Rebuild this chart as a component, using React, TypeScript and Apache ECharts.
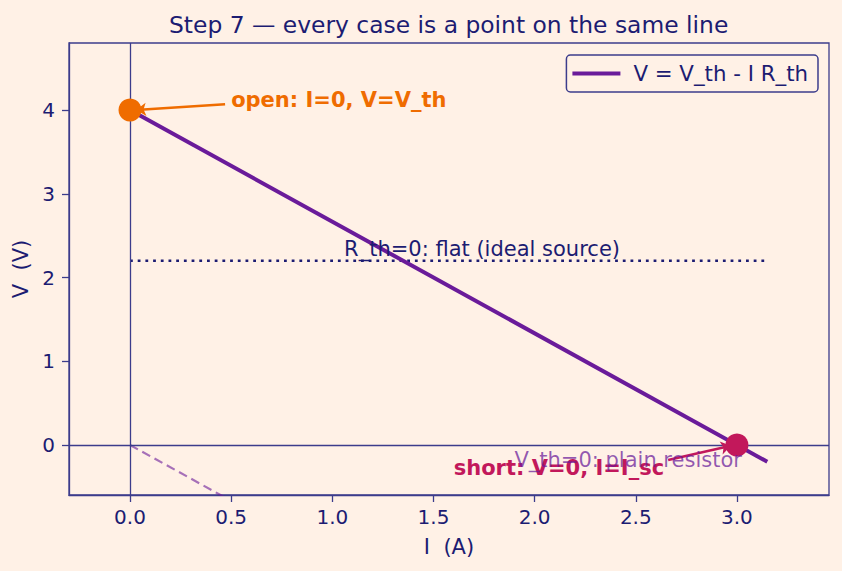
import React, { useEffect, useRef } from "react";
import * as echarts from "echarts";

const NAVY = "#1c1c72";
const FRAME = "#3c3c8c";
const PURPLE = "#6a1b9a";
const ORANGE = "#ef6c00";
const CRIMSON = "#c2185b";
const BG = "#fff1e6";
const FONT = "DejaVu Sans";

const xTicks = [0, 0.5, 1.0, 1.5, 2.0, 2.5, 3.0];
const yTicks = [0, 1, 2, 3, 4];

const lineI = [0, 3.15];
const lineV = [4, -0.2];
const flatI = [0, 3.15];
const flatV = [2.2, 2.2];
const resI = [0, 3.15];
const resV = [0, -4.2];

const openPt = [0, 4];
const shortPt = [3, 0];

const openArrowFrom = [0.47, 4.07];
const openArrowTo = [0.03, 4.0];
const shortArrowFrom = [2.66, -0.18];
const shortArrowTo = [2.97, -0.01];

const openLabelPos = [0.5, 4.12];
const shortLabelPos = [1.6, -0.27];
const resLabelPos = [1.9, -0.18];
const flatLabelPos = [1.74, 2.34];

const zip = (a: number[], b: number[]) => a.map((v, i) => [v, b[i]]);

export default function App() {
  const ref = useRef<HTMLDivElement>(null);
  useEffect(() => {
    const chart = echarts.init(ref.current!, null, { renderer: "svg" });
    const textLabel = (
      pos: number[],
      text: string,
      color: string,
      bold: boolean,
      position: any,
      z: number
    ) => ({
      type: "scatter",
      data: [pos],
      symbolSize: 0,
      silent: true,
      z,
      itemStyle: { opacity: 1 },
      label: {
        show: true,
        formatter: text,
        position,
        distance: 0,
        color,
        fontFamily: FONT,
        fontSize: 21,
        fontWeight: bold ? "bold" : "normal",
      },
    });
    chart.setOption({
      animation: false,
      backgroundColor: BG,
      textStyle: { fontFamily: FONT },
      title: {
        text: "Step 7 — every case is a point on the same line",
        left: 164,
        top: 8,
        textStyle: { color: NAVY, fontSize: 23.4, fontWeight: "normal", fontFamily: FONT },
      },
      legend: {
        data: [{ name: "V = V_th - I R_th", icon: "rect" }],
        right: 24,
        top: 55,
        itemWidth: 48,
        itemHeight: 4,
        itemGap: 10,
        padding: [8, 10, 8, 6],
        borderColor: FRAME,
        borderWidth: 1.5,
        borderRadius: 4,
        backgroundColor: "rgba(255,241,230,0.8)",
        textStyle: { color: NAVY, fontSize: 21.3, fontFamily: FONT, padding: [0, 0, 0, 8] },
      },
      grid: {
        left: 69,
        right: 13,
        top: 43,
        bottom: 76,
        show: true,
        borderColor: FRAME,
        borderWidth: 1.3,
        backgroundColor: "transparent",
      },
      xAxis: {
        type: "value",
        min: -0.3015,
        max: 3.455,
        name: "I  (A)",
        nameLocation: "middle",
        nameGap: 41,
        nameTextStyle: { color: NAVY, fontSize: 21, fontFamily: FONT },
        axisLine: { show: true, onZero: false, lineStyle: { color: FRAME, width: 1.3 } },
        axisTick: { show: true, length: 7, customValues: xTicks, lineStyle: { color: FRAME, width: 1.3 } },
        axisLabel: {
          customValues: xTicks,
          color: NAVY,
          fontSize: 20,
          margin: 12,
          formatter: (v: number) => v.toFixed(1),
        },
        splitLine: { show: false },
      },
      yAxis: {
        type: "value",
        min: -0.597,
        max: 4.8,
        name: "V  (V)",
        nameLocation: "middle",
        nameGap: 38,
        nameTextStyle: { color: NAVY, fontSize: 21, fontFamily: FONT },
        axisLine: { show: true, onZero: false, lineStyle: { color: FRAME, width: 1.3 } },
        axisTick: { show: true, length: 7, customValues: yTicks, lineStyle: { color: FRAME, width: 1.3 } },
        axisLabel: {
          customValues: yTicks,
          color: NAVY,
          fontSize: 20,
          margin: 14,
          formatter: (v: number) => String(Math.round(v)),
        },
        splitLine: { show: false },
      },
      series: [
        {
          type: "line",
          name: "axes0",
          data: [],
          silent: true,
          markLine: {
            silent: true,
            symbol: "none",
            label: { show: false },
            lineStyle: { color: FRAME, width: 1.3, type: "solid", opacity: 1 },
            data: [{ xAxis: 0 }, { yAxis: 0 }],
          },
        },
        {
          type: "line",
          name: "res",
          data: zip(resI, resV),
          showSymbol: false,
          lineStyle: { color: "rgba(106,27,154,0.6)", width: 2.2, type: [9, 5] },
          z: 3,
        },
        {
          type: "line",
          name: "flat",
          data: zip(flatI, flatV),
          showSymbol: false,
          lineStyle: { color: NAVY, width: 2.5, type: [2.8, 4.9] },
          z: 3,
        },
        {
          type: "line",
          name: "V = V_th - I R_th",
          data: zip(lineI, lineV),
          showSymbol: false,
          color: PURPLE,
          lineStyle: { color: PURPLE, width: 4 },
          z: 4,
        },
        {
          type: "lines",
          coordinateSystem: "cartesian2d",
          silent: true,
          z: 5,
          symbol: ["none", "arrow"],
          symbolSize: 10,
          data: [
            { coords: [openArrowFrom, openArrowTo], lineStyle: { color: ORANGE, width: 2.5, opacity: 1 } },
            { coords: [shortArrowFrom, shortArrowTo], lineStyle: { color: CRIMSON, width: 2.5, opacity: 1 } },
          ],
        },
        {
          type: "scatter",
          silent: true,
          z: 6,
          symbolSize: 23,
          itemStyle: { opacity: 1 },
          data: [
            { value: openPt, itemStyle: { color: ORANGE, opacity: 1 } },
            { value: shortPt, itemStyle: { color: CRIMSON, opacity: 1 } },
          ],
        },
        textLabel(openLabelPos, "open: I=0, V=V_th", ORANGE, true, "right", 7),
        textLabel(shortLabelPos, "short: V=0, I=I_sc", CRIMSON, true, "right", 7),
        textLabel(resLabelPos, "V_th=0: plain resistor", "rgba(106,27,154,0.72)", false, "right", 8),
        textLabel(flatLabelPos, "R_th=0: flat (ideal source)", NAVY, false, "inside", 8),
      ],
    });
    return () => chart.dispose();
  }, []);
  return <div ref={ref} style={{ width: 842, height: 571, position: "absolute", left: 0, top: 0 }} />;
}
